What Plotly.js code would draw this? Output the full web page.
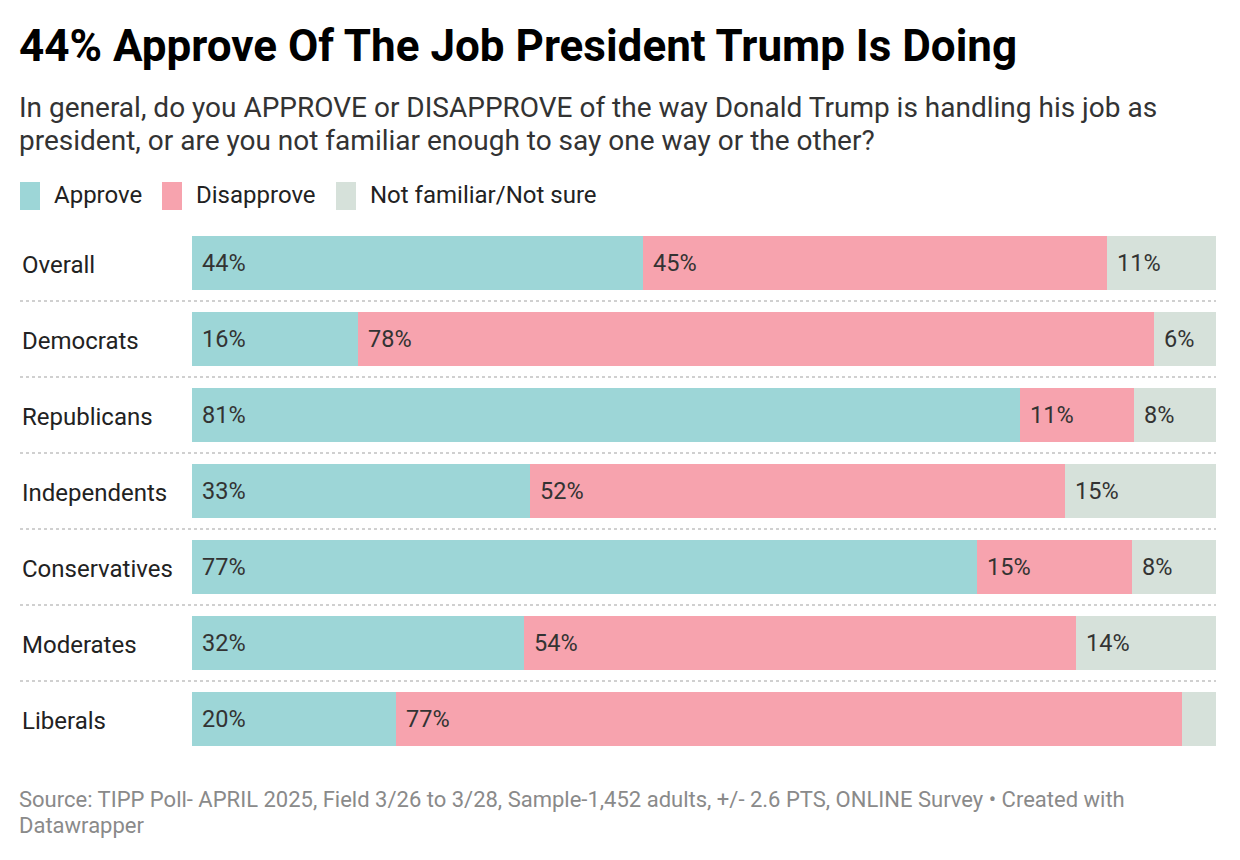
<!DOCTYPE html>
<html>
<head>
<meta charset="utf-8">
<script src="https://cdn.plot.ly/plotly-3.0.1.min.js"></script>
<style>html,body{margin:0;padding:0;background:#fff;}#chart{width:1240px;height:860px;}</style>
</head>
<body>
<div id="chart"></div>
<script>
const categories = ["Overall","Democrats","Republicans","Independents","Conservatives","Moderates","Liberals"];
const approve    = [44.0, 16.2, 80.9, 33.0, 76.7, 32.4, 19.9];
const disapprove = [45.4, 77.7, 11.1, 52.3, 15.1, 53.9, 76.8];
const notSure    = [10.6, 6.1, 8.0, 14.7, 8.2, 13.7, 3.3];
const showNotSureLabel = [true, true, true, true, true, true, false];
const seriesNames = ["Approve","Disapprove","Not familiar/Not sure"];
const colors = ["#9dd6d7","#f7a3ae","#d6e1da"];
const subtitleLines = [
  "In general, do you APPROVE or DISAPPROVE of the way Donald Trump is handling his job as",
  "president, or are you not familiar enough to say one way or the other?"
];
const footerLines = [
  "Source: TIPP Poll- APRIL 2025, Field 3/26 to 3/28, Sample-1,452 adults, +/- 2.6 PTS, ONLINE Survey • Created with",
  "Datawrapper"
];

const W = 1240, H = 860;
const L = 192, R = 24, T = 225, B = 103;
const PW = W - L - R, PH = H - T - B;
const px = x => (x - L) / PW;
const py = y => (H - B - y) / PH;
const FONT = "Roboto, 'Open Sans', sans-serif";

const series = [approve, disapprove, notSure];
const traces = series.map((vals, i) => ({
  type: "bar", orientation: "h", name: seriesNames[i],
  y: categories, x: vals,
  marker: {color: colors[i], line: {width: 0}},
  width: 54/76, hoverinfo: "x+y", showlegend: false
}));

const annotations = [];
const shapes = [];

categories.forEach((c, ci) => {
  let base = 0;
  series.forEach((vals, si) => {
    const v = vals[ci];
    if (si < 2 || showNotSureLabel[ci]) {
      annotations.push({x: base, y: c, xref: "x", yref: "y", text: Math.round(v) + "%",
        xanchor: "left", yanchor: "middle", xshift: 8, showarrow: false,
        font: {family: FONT, size: 23.5, color: "#333333"}});
    }
    base += v;
  });
  annotations.push({x: px(20), y: c, xref: "paper", yref: "y", text: c,
    xanchor: "left", yanchor: "middle", yshift: -2, showarrow: false,
    font: {family: FONT, size: 24, color: "#222222"}});
  if (ci < categories.length - 1) {
    shapes.push({type: "line", xref: "paper", yref: "y", x0: px(20), x1: px(1216),
      y0: ci + 0.5, y1: ci + 0.5, line: {color: "#d0d0d0", width: 2, dash: "dot"}});
  }
});

annotations.push({x: px(17), y: py(46), xref: "paper", yref: "paper", xanchor: "left", yanchor: "middle",
  showarrow: false, text: "<b>44% Approve Of The Job President Trump Is Doing</b>",
  font: {family: FONT, size: 44, color: "#000000"}});
subtitleLines.forEach((t, i) => {
  annotations.push({x: px(17), y: py(107 + 34 * i), xref: "paper", yref: "paper", xanchor: "left", yanchor: "middle",
    showarrow: false, text: t, font: {family: FONT, size: 28, color: "#333333"}});
});

const legendX = [20, 162, 336];
seriesNames.forEach((n, i) => {
  const x0 = legendX[i];
  shapes.push({type: "rect", xref: "paper", yref: "paper", x0: px(x0), x1: px(x0 + 20),
    y0: py(210), y1: py(182), fillcolor: colors[i], line: {width: 0}});
  annotations.push({x: px(x0 + 32), y: py(195), xref: "paper", yref: "paper", xanchor: "left", yanchor: "middle",
    showarrow: false, text: n, font: {family: FONT, size: 24, color: "#222222"}});
});

footerLines.forEach((t, i) => {
  annotations.push({x: px(17), y: py(799 + 26 * i), xref: "paper", yref: "paper", xanchor: "left", yanchor: "middle",
    showarrow: false, text: t, font: {family: FONT, size: 22, color: "#8a8a8a"}});
});

const layout = {
  width: W, height: H, barmode: "stack", bargap: 0,
  margin: {l: L, r: R, t: T, b: B, pad: 0},
  paper_bgcolor: "#ffffff", plot_bgcolor: "#ffffff",
  xaxis: {range: [0, 100], visible: false, fixedrange: true},
  yaxis: {autorange: "reversed", showticklabels: false, showgrid: false, zeroline: false, ticks: "", fixedrange: true},
  showlegend: false, annotations: annotations, shapes: shapes,
  font: {family: FONT}
};
Plotly.newPlot("chart", traces, layout, {displayModeBar: false, staticPlot: true});
</script>
</body>
</html>
